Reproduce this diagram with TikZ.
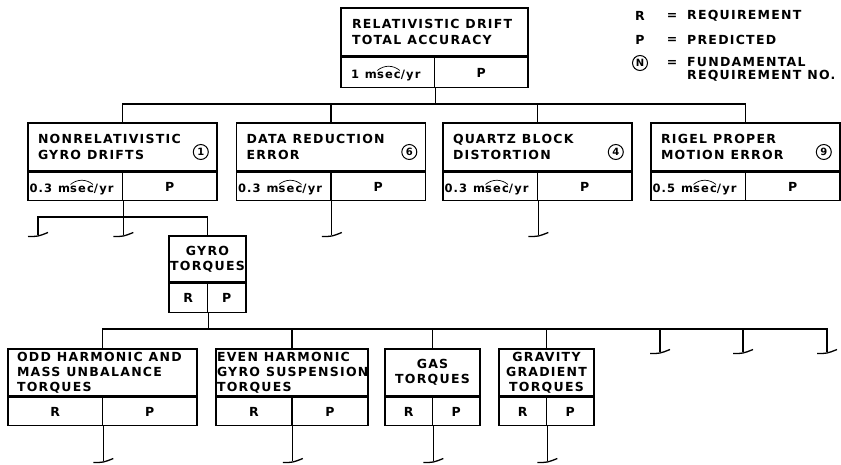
\documentclass[tikz,border=0pt]{standalone}
\usepackage{fontspec}
\usetikzlibrary{positioning}
\newfontfamily\lettering[LetterSpace=10]{DejaVu Sans}
\newfontfamily\numfont{DejaVu Sans}
\newcommand{\lsize}{\fontsize{12.5}{15.2}\selectfont}
\newcommand{\valsize}{\fontsize{11.5}{12}\selectfont}
% "sec" with the arc over it
\newcommand{\msarc}{m\tikz[baseline=(s.base)]{\node[inner sep=0pt,outer sep=0pt,minimum width=0pt,minimum height=0pt,text width=,anchor=base] (s) {sec};
 \draw[line width=.7pt] ([xshift=.3pt,yshift=1.3pt]s.north west) to[bend left=40] ([xshift=-1pt,yshift=1.3pt]s.north east);}}
\tikzset{
 lettered/.style={font=\lettering\bfseries\lsize, execute at begin node={\spaceskip=6pt\relax}},
 boxed/.style={draw, line width=1.6pt, inner ysep=0pt, lettered},
 ttl/.style={boxed, align=left},
 cell/.style={boxed, minimum height=#1},
 vcell/.style={boxed, font=\lettering\bfseries\valsize, minimum height=#1, align=left},
 link/.style={line width=1.2pt},
 legtxt/.style={lettered, font=\lettering\bfseries\fontsize{12.5}{13}\selectfont, inner sep=0pt},
 fnum/.style={circle, draw, line width=1pt, inner sep=0pt, minimum size=15pt,
  font=\numfont\bfseries\fontsize{10}{10}\selectfont},
 stub/.pic={\draw[line width=1.3pt] (-10,1.5) .. controls (0,1.5) .. (10,-2.5);}
}

\begin{document}
\begin{tikzpicture}[x=1pt,y=-1pt]
\useasboundingbox (0,0) rectangle (841,465);

% top of the tree
\node[ttl, inner xsep=11pt, text width=165pt, minimum height=48pt] (top) at (434.5,32) {RELATIVISTIC DRIFT\\TOTAL ACCURACY};
\node[vcell=30pt, inner xsep=10pt, text width=73.5pt, anchor=north west] (top-l) at (top.south west) {1~\msarc/yr};
\node[cell=30pt, minimum width=93.5pt, anchor=north east] (top-r) at (top.south east) {P};

% legend
\node[legtxt] (kR) at (640,16) {R};
\node[legtxt] (qR) at (672,16) {=};
\node[legtxt, anchor=west] (kRt) at (687,16) {REQUIREMENT};
\node[legtxt] (kP) at (640,40) {P};
\node[legtxt] (qP) at (672,40) {=};
\node[legtxt, anchor=west] (kPt) at (687,40) {PREDICTED};
\node[fnum] (kN) at (640,63) {N};
\node[legtxt] (qN) at (672,63) {=};
\node[legtxt, anchor=west, align=left] (kNt) at (687,69.5) {FUNDAMENTAL\\REQUIREMENT NO.};

% first level
\foreach \b/\cx/\ttext/\num/\val in {t1/122.5/{NONRELATIVISTIC\\GYRO DRIFTS}/1/0.3,
  t2/331/{DATA REDUCTION\\ERROR}/6/0.3, t3/537.5/{QUARTZ BLOCK\\DISTORTION}/4/0.3,
  t4/745.5/{RIGEL PROPER\\MOTION ERROR}/9/0.5} {
 \node[ttl, inner xsep=10pt, text width=169pt, minimum height=48pt] (\b) at (\cx,147) {\ttext};
 \node[fnum] (\b-n) at ([xshift=-17pt,yshift=-5pt]\b.east) {\num};
 \node[vcell=28pt, inner xsep=1.5pt, text width=91.5pt, anchor=north west] (\b-l) at (\b.south west) {\val~\msarc/yr};
 \node[cell=28pt, minimum width=94.5pt, anchor=north east] (\b-r) at (\b.south east) {P};
}

% gyro torques
\node[ttl, align=center, inner xsep=.5pt, text width=76pt, minimum height=46pt] (gyro) at (207.5,259) {GYRO\\TORQUES};
\node[cell=29pt, minimum width=38.5pt, anchor=north west] (gyro-l) at (gyro.south west) {R};
\node[cell=29pt, minimum width=38.5pt, anchor=north east] (gyro-r) at (gyro.south east) {P};

% torque level
\node[ttl, inner xsep=9pt, text width=171pt, minimum height=47pt] (odd) at (102.5,372.5) {ODD HARMONIC AND\\MASS UNBALANCE\\TORQUES};
\node[ttl, inner xsep=1pt, text width=150pt, minimum height=47pt] (even) at (292,372.5) {EVEN HARMONIC\\GYRO~SUSPENSION\\TORQUES};
\node[ttl, align=center, inner xsep=2pt, text width=91pt, minimum height=47pt] (gas) at (432.5,372.5) {GAS\\TORQUES};
\node[ttl, align=center, inner xsep=2pt, text width=91pt, minimum height=47pt] (grav) at (546.5,372.5) {GRAVITY\\GRADIENT\\TORQUES};
\foreach \b/\hw in {odd/94.5,even/76,gas/47.5,grav/47.5} {
 \node[cell=28pt, minimum width=\hw pt, anchor=north west] (\b-l) at (\b.south west) {R};
 \node[cell=28pt, minimum width=\hw pt, anchor=north east] (\b-r) at (\b.south east) {P};
}

% connectors
\coordinate (busA) at (0,104);
\coordinate (busB) at (0,217);
\coordinate (lvlB) at (0,235);
\coordinate (busC) at (0,329);
\coordinate (lvlD) at (0,461);
\coordinate (fB) at (38,235);
\coordinate (fC1) at (660,352);
\coordinate (fC2) at (743,352);
\coordinate (fC3) at (827,352);

\draw[link] (top-l.south east) -- (top-l.south east |- busA);
\draw[link] (t1.north) -- (t1.north |- busA) -- (t4.north |- busA) -- (t4.north);
\foreach \b in {t2,t3} \draw[link] (\b.north |- busA) -- (\b.north);
\foreach \b in {t1,t2,t3} \draw[link] (\b-l.south east) -- (\b-l.south east |- lvlB) pic{stub};
\draw[link] (gyro.north) -- (gyro.north |- busB) -- (fB |- busB) -- (fB) pic{stub};

\draw[link] (gyro-l.south east) -- (gyro-l.south east |- busC);
\draw[link] (odd.north) -- (odd.north |- busC) -- (fC3 |- busC) -- (fC3) pic{stub};
\foreach \b in {even,gas,grav} \draw[link] (\b.north |- busC) -- (\b.north);
\foreach \f in {fC1,fC2} \draw[link] (\f |- busC) -- (\f) pic{stub};
\foreach \b in {odd,even,gas,grav} \draw[link] (\b-l.south east) -- (\b-l.south east |- lvlD) pic{stub};
\end{tikzpicture}
\end{document}
